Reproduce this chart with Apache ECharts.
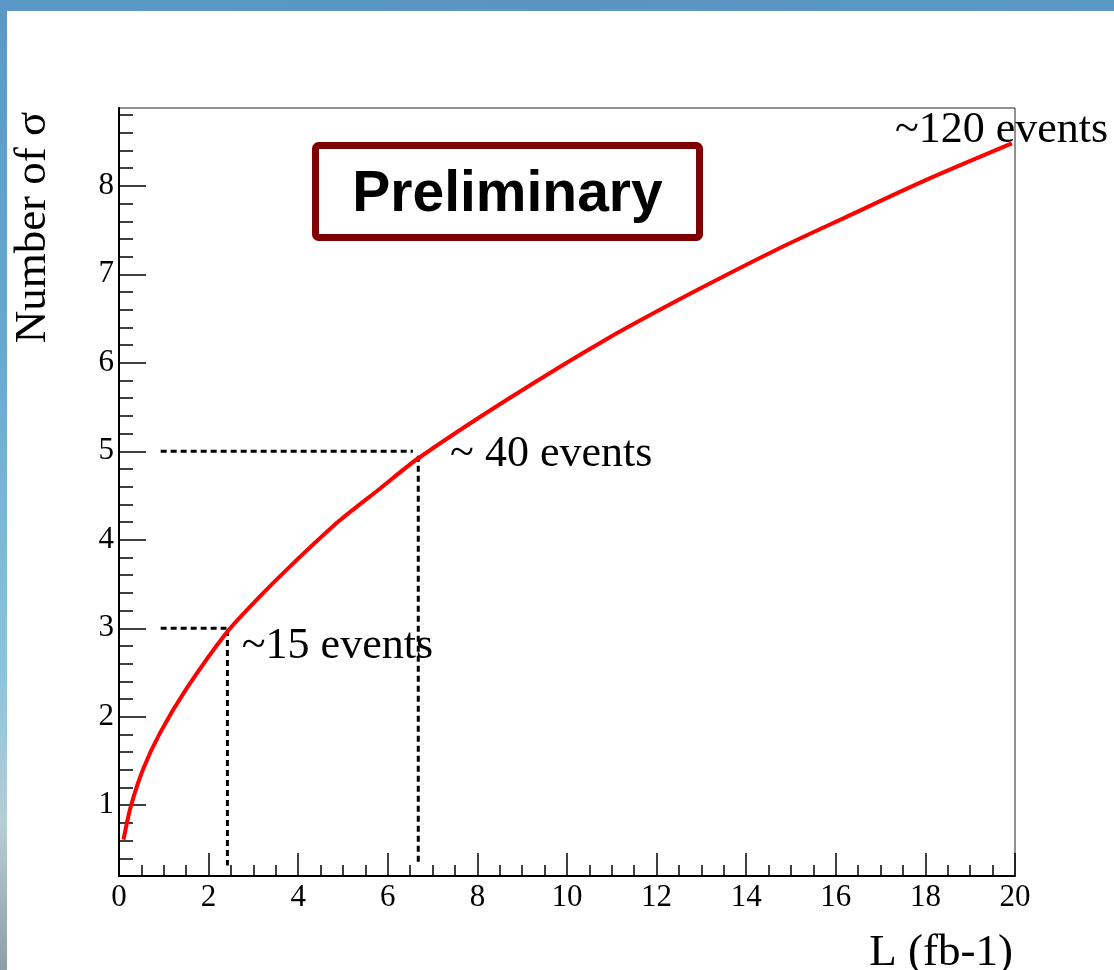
<!DOCTYPE html>
<html>
<head>
<meta charset="utf-8">
<script src="https://cdn.jsdelivr.net/npm/echarts@6/dist/echarts.min.js"></script>
<style>
html,body{margin:0;padding:0;background:#fff;}
#chart{width:1114px;height:970px;}
</style>
</head>
<body>
<div id="chart"></div>
<script>
// ---- data ----
const lumi  = [0.10, 0.26, 0.54, 0.92, 1.51, 2.40, 3.07, 3.82, 4.93, 5.83, 6.65, 8.65, 10.89, 12.82, 14.72, 16.24, 18.03, 19.93];
const sigma = [0.61, 0.98, 1.41, 1.82, 2.32, 2.95, 3.32, 3.70, 4.22, 4.58, 4.91, 5.58, 6.27, 6.80, 7.29, 7.65, 8.07, 8.48];

const guideSigma   = [3, 5];          // horizontal dashed guides
const guideStartL  = [0.93, 0.93];
const guideEndL    = [2.40, 6.56];
const guideL       = [2.42, 6.68];    // vertical dashed guides
const guideTopS    = [2.98, 4.95];
const guideBottomS = [0.32, 0.34];

const annoL    = [17.32, 7.39, 2.74];
const annoS    = [8.63, 4.96, 2.80];
const annoText = ['~120 events', '~ 40 events', '~15 events'];

const xTitle = 'L (fb-1)';
const yTitle = 'Number of σ';
const yTickLabels = [1, 2, 3, 4, 5, 6, 7, 8];
const yMinorTicks = [];
for (let i = 2; i <= 44; i++) { if (i % 5 !== 0) yMinorTicks.push(+(i * 0.2).toFixed(1)); }

const X_MIN = 0, X_MAX = 20, Y_MIN = 0.2, Y_MAX = 8.88;

const serif = '"Liberation Serif", "DejaVu Serif", serif';

const guideSeries = [];
for (let i = 0; i < guideSigma.length; i++) {
  guideSeries.push({
    type: 'line', showSymbol: false, silent: true, clip: false, z: 3,
    lineStyle: { color: '#000', width: 3, type: [6, 4] },
    data: [[guideStartL[i], guideSigma[i]], [guideEndL[i], guideSigma[i]]]
  });
  guideSeries.push({
    type: 'line', showSymbol: false, silent: true, clip: false, z: 3,
    lineStyle: { color: '#000', width: 3, type: [6, 4] },
    data: [[guideL[i], guideTopS[i]], [guideL[i], guideBottomS[i]]]
  });
}

const chart = echarts.init(document.getElementById('chart'), null, { renderer: 'canvas' });
chart.setOption({
  backgroundColor: '#fff',
  animation: false,
  textStyle: { fontFamily: serif },
  grid: {
    left: 119, right: 99, top: 108, bottom: 94,
    show: true, borderColor: '#222', borderWidth: 1, backgroundColor: 'transparent',
    outerBoundsMode: 'none', containLabel: false
  },
  xAxis: {
    type: 'value', min: X_MIN, max: X_MAX, interval: 2,
    name: xTitle, nameLocation: 'end', nameGap: -2, nameMoveOverlap: false,
    nameTextStyle: { fontFamily: serif, fontSize: 45, color: '#000', align: 'right', verticalAlign: 'top', padding: [55, 0, 0, 0] },
    axisLine: { show: true, onZero: false, lineStyle: { color: '#000', width: 2 } },
    axisTick: { show: true, inside: true, length: 23, lineStyle: { color: '#000', width: 1.5 } },
    minorTick: { show: true, splitNumber: 4, length: 11, lineStyle: { color: '#000', width: 1.5 } },
    axisLabel: { fontFamily: serif, fontSize: 31, color: '#000', margin: 6 },
    splitLine: { show: false }, minorSplitLine: { show: false }
  },
  yAxis: [
    {
      type: 'value', min: Y_MIN, max: Y_MAX, position: 'left',
      axisLine: { show: true, onZero: false, lineStyle: { color: '#000', width: 2 } },
      axisTick: { show: true, inside: true, length: 27, customValues: yTickLabels, lineStyle: { color: '#000', width: 1.5 } },
      axisLabel: { fontFamily: serif, fontSize: 31, color: '#000', margin: 5, customValues: yTickLabels },
      splitLine: { show: false }
    },
    {
      type: 'value', min: Y_MIN, max: Y_MAX, position: 'left', offset: 0,
      axisLine: { show: false },
      axisTick: { show: true, inside: true, length: 14, customValues: yMinorTicks, lineStyle: { color: '#000', width: 1.5 } },
      axisLabel: { show: false, customValues: [] },
      splitLine: { show: false }
    }
  ],
  graphic: [
    { type: 'rect', left: 0, top: 0, z: -10, silent: true,
      shape: { x: 0, y: 0, width: 1114, height: 11 },
      style: { fill: new echarts.graphic.LinearGradient(0, 0, 1, 0, [
        { offset: 0, color: '#5b98c6' }, { offset: 0.5, color: '#5a95c2' }, { offset: 1, color: '#5b97c5' }]) } },
    { type: 'rect', left: 0, top: 0, z: -10, silent: true,
      shape: { x: 0, y: 0, width: 7, height: 970 },
      style: { fill: new echarts.graphic.LinearGradient(0, 0, 0, 1, [
        { offset: 0, color: '#5b98c6' }, { offset: 0.35, color: '#67a8cf' },
        { offset: 0.7, color: '#8cc4dd' }, { offset: 0.85, color: '#b6cdd6' }, { offset: 1, color: '#8e9ea6' }]) } },
    { type: 'text', x: 33, y: 227.5, rotation: Math.PI / 2, z: 20, silent: true,
      style: { text: yTitle, fill: '#000', font: '45px ' + serif, align: 'center', verticalAlign: 'middle' } },
    { type: 'group', left: 312, top: 142, z: 20, children: [
      { type: 'rect', shape: { x: 3.5, y: 3.5, width: 384, height: 92, r: 3 },
        style: { fill: '#fff', stroke: '#7f0000', lineWidth: 7 } },
      { type: 'text', x: 195.5, y: 53, style: { text: 'Preliminary', fill: '#000',
        font: 'bold 57px "Liberation Sans", Arial, sans-serif', align: 'center', verticalAlign: 'middle' } }
    ] }
  ],
  series: [
    {
      type: 'line', name: 'significance', smooth: 0.25, showSymbol: false, z: 4,
      lineStyle: { color: '#ff0000', width: 4 },
      data: lumi.map((l, i) => [l, sigma[i]])
    },
    ...guideSeries,
    {
      type: 'scatter', symbolSize: 0.1, z: 5, silent: true,
      itemStyle: { color: 'rgba(0,0,0,0)' },
      label: {
        show: true, position: 'right', distance: 0, opacity: 1,
        fontFamily: serif, fontSize: 44, color: '#000', textBorderWidth: 0,
        align: 'left', verticalAlign: 'middle',
        formatter: p => annoText[p.dataIndex]
      },
      data: annoL.map((l, i) => [l, annoS[i]])
    }
  ]
});
</script>
</body>
</html>
